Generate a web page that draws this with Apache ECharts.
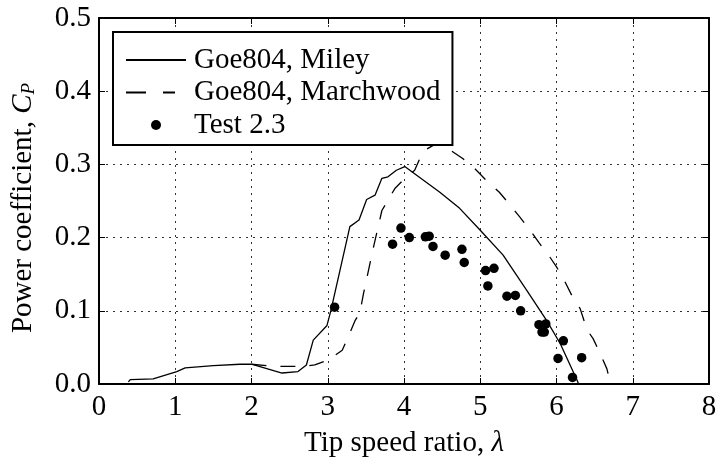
<!DOCTYPE html>
<html>
<head>
<meta charset="utf-8">
<script src="https://cdn.jsdelivr.net/npm/echarts@6/dist/echarts.min.js"></script>
<style>
  html, body { margin: 0; padding: 0; background: #fff; }
  #chart { width: 722px; height: 461px; }
</style>
</head>
<body>
<div id="chart"></div>
<script>
// Tip speed ratio vs power coefficient for the Goe804 rotor
const xTicks = [0, 1, 2, 3, 4, 5, 6, 7, 8];
const yTicks = [0.0, 0.1, 0.2, 0.3, 0.4, 0.5];

// Predicted curve (Miley): [lambda, Cp]
const mileyCurve = [
  [0.385, 0.003], [0.41, 0.006], [0.71, 0.007], [1.02, 0.017], [1.13, 0.022],
  [1.50, 0.025], [1.85, 0.027], [2.00, 0.027], [2.40, 0.015], [2.61, 0.017],
  [2.72, 0.026], [2.81, 0.060], [2.99, 0.080], [3.04, 0.100], [3.29, 0.215],
  [3.41, 0.224], [3.51, 0.252], [3.62, 0.258], [3.71, 0.281], [3.79, 0.283],
  [3.90, 0.292], [4.01, 0.297], [4.47, 0.262], [4.73, 0.240], [5.00, 0.210],
  [5.30, 0.176], [5.61, 0.128], [5.87, 0.087], [6.05, 0.055], [6.27, 0.005],
  [6.29, 0.000]
];

// Predicted curve (Marchwood): [lambda, Cp]
const marchwoodCurve = [
  [2.00, 0.027], [2.30, 0.024], [2.65, 0.024], [2.83, 0.026], [3.01, 0.033],
  [3.19, 0.046], [3.27, 0.065], [3.36, 0.087], [3.42, 0.097], [3.47, 0.124],
  [3.60, 0.187], [3.71, 0.237], [3.88, 0.267], [4.04, 0.284], [4.14, 0.292],
  [4.25, 0.318], [4.40, 0.327], [4.50, 0.329], [4.60, 0.320], [4.77, 0.308],
  [4.93, 0.294], [5.08, 0.278], [5.25, 0.262], [5.38, 0.246], [5.52, 0.228],
  [5.64, 0.212], [5.77, 0.193], [5.89, 0.177], [6.00, 0.160], [6.10, 0.142],
  [6.21, 0.119], [6.31, 0.103], [6.40, 0.074], [6.48, 0.062], [6.57, 0.042],
  [6.66, 0.021], [6.71, 0.000]
];

// Measured points, Test 2.3: [lambda, Cp]
const testPoints = [
  [3.09, 0.105], [3.85, 0.191], [3.96, 0.213], [4.07, 0.200], [4.28, 0.201],
  [4.33, 0.202], [4.38, 0.188], [4.54, 0.176], [4.76, 0.184], [4.79, 0.166],
  [5.07, 0.155], [5.18, 0.158], [5.10, 0.134], [5.35, 0.120], [5.46, 0.121],
  [5.53, 0.100], [5.77, 0.081], [5.86, 0.082], [5.81, 0.071], [5.84, 0.071],
  [6.09, 0.059], [6.02, 0.035], [6.33, 0.036], [6.21, 0.009]
];

const seriesNames = ['Goe804, Miley', 'Goe804, Marchwood', 'Test 2.3'];

const FONT = 'Liberation Serif';
const FS = 29;

// shared serif text style
const txt = (extra) => Object.assign({
  fontFamily: FONT, fontSize: FS, fontStyle: 'normal', fontWeight: 'normal', color: '#000'
}, extra || {});

const frameAxis = {
  axisLine: { show: true, onZero: false, lineStyle: { color: '#000', width: 2 } },
  axisTick: { show: true, inside: true, length: 6, lineStyle: { color: '#000', width: 1 } },
  splitLine: { show: false },
  axisLabel: { show: false }
};

// hide the marker that line series otherwise put in the middle of their legend sample
const noMarker = { color: 'rgba(0,0,0,0)', borderWidth: 0, opacity: 0 };

const option = {
  backgroundColor: '#fff',
  animation: false,
  grid: { left: 99, right: 13, top: 18, bottom: 77, containLabel: false, outerBoundsMode: 'none' },
  legend: {
    data: [
      { name: seriesNames[0], itemStyle: noMarker },
      { name: seriesNames[1], itemStyle: noMarker, lineStyle: { type: [20, 17, 12, 100] } },
      { name: seriesNames[2] }
    ],
    orient: 'vertical',
    left: 113,
    top: 32,
    itemWidth: 60,
    itemHeight: 10,
    itemGap: 2.5,
    padding: [13, 12, 5, 12],
    backgroundColor: '#fff',
    borderColor: '#000',
    borderWidth: 2,
    borderRadius: 0,
    textStyle: txt({ lineHeight: 30, padding: [0, 0, 0, 3] }),
    z: 10
  },
  xAxis: [
    {
      type: 'value', min: xTicks[0], max: xTicks[xTicks.length - 1], interval: 1,
      position: 'bottom',
      name: '{n|Tip speed ratio, }{i|λ}',
      nameLocation: 'middle',
      nameGap: 45,
      nameTextStyle: txt({
        rich: {
          n: txt(),
          i: txt({ fontStyle: 'italic' })
        }
      }),
      axisLine: { show: true, onZero: false, lineStyle: { color: '#000', width: 2 } },
      axisTick: { show: true, inside: true, length: 6, lineStyle: { color: '#000', width: 1 } },
      axisLabel: txt({ show: true, margin: 9, formatter: v => String(v) }),
      splitLine: { show: true, lineStyle: { color: '#333', width: 1, type: [2, 5] } }
    },
    Object.assign({ type: 'value', min: 0, max: 8, interval: 1, position: 'top' }, frameAxis)
  ],
  yAxis: [
    {
      type: 'value', min: yTicks[0], max: yTicks[yTicks.length - 1], interval: 0.1,
      position: 'left',
      name: '{n|Power coefficient, }{i|C}{s|P}',
      nameLocation: 'middle',
      nameGap: 61,
      nameRotate: 90,
      nameTextStyle: txt({
        padding: [0, 14, 0, 0],
        rich: {
          n: txt(),
          i: txt({ fontStyle: 'italic' }),
          s: txt({ fontStyle: 'italic', fontSize: 19, padding: [10, 0, 0, 0] })
        }
      }),
      axisLine: { show: true, onZero: false, lineStyle: { color: '#000', width: 2 } },
      axisTick: { show: true, inside: true, length: 6, lineStyle: { color: '#000', width: 1 } },
      axisLabel: txt({ show: true, margin: 8, formatter: v => v.toFixed(1) }),
      splitLine: { show: true, lineStyle: { color: '#333', width: 1, type: [2, 5] } }
    },
    Object.assign({ type: 'value', min: 0, max: 0.5, interval: 0.1, position: 'right' }, frameAxis)
  ],
  series: [
    {
      name: seriesNames[0], type: 'line', data: mileyCurve,
      showSymbol: false, symbol: 'none', smooth: false,
      lineStyle: { color: '#000', width: 1.3, type: 'solid' },
      itemStyle: { color: '#000' }, z: 3
    },
    {
      name: seriesNames[1], type: 'line', data: marchwoodCurve,
      showSymbol: false, symbol: 'none', smooth: false,
      lineStyle: { color: '#000', width: 1.3, type: [15, 14] },
      itemStyle: { color: '#000' }, z: 3
    },
    {
      name: seriesNames[2], type: 'scatter', data: testPoints,
      symbol: 'circle', symbolSize: 9.5,
      itemStyle: { color: '#000', opacity: 1 }, z: 4
    }
  ]
};

const chart = echarts.init(document.getElementById('chart'), null, { renderer: 'canvas' });
chart.setOption(option);
</script>
</body>
</html>
